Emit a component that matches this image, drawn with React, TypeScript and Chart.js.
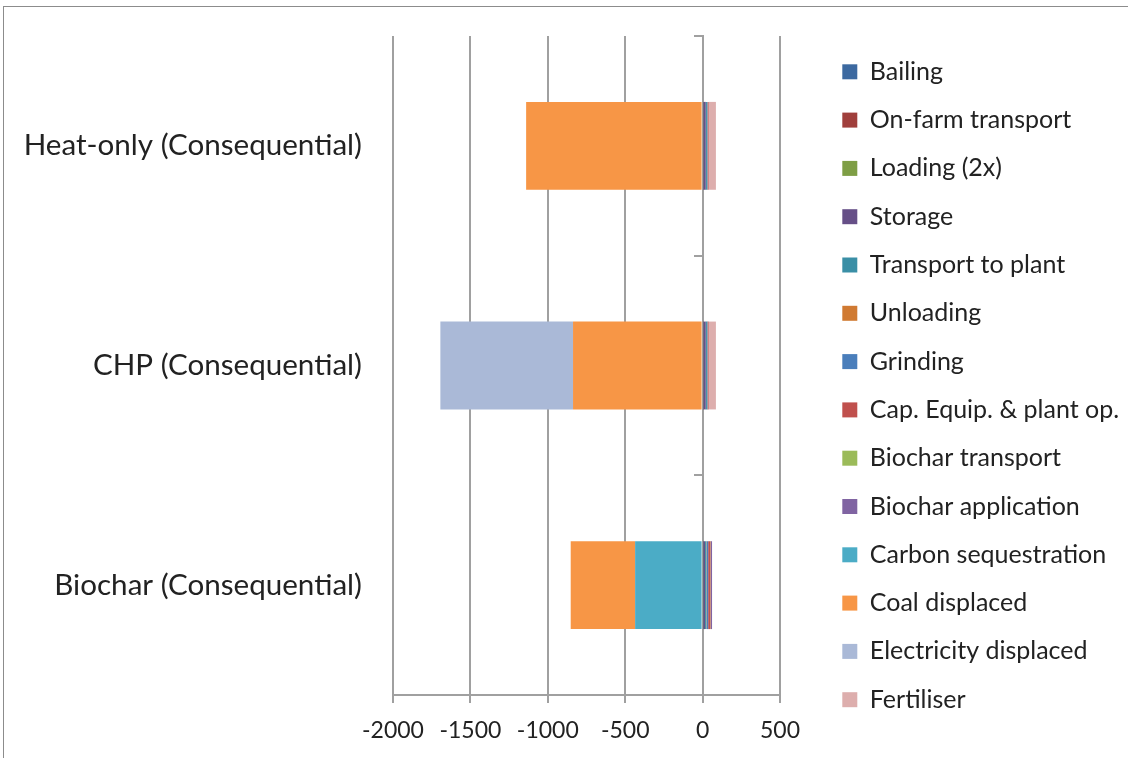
import React, { useEffect, useRef } from "react";
import { Chart, registerables } from "chart.js";

Chart.register(...registerables);

const categories = ["Heat-only (Consequential)", "CHP (Consequential)", "Biochar (Consequential)"];

const seriesNames = [
  "Bailing",
  "On-farm transport",
  "Loading (2x)",
  "Storage",
  "Transport to plant",
  "Unloading",
  "Grinding",
  "Cap. Equip. & plant op.",
  "Biochar transport",
  "Biochar application",
  "Carbon sequestration",
  "Coal displaced",
  "Electricity displaced",
  "Fertiliser",
];

const bailing = [4, 4, 3];
const onFarmTransport = [3, 3, 3];
const loading = [1, 1, 1];
const storage = [12, 12, 9];
const transportToPlant = [8, 8, 8];
const unloading = [2, 2, 2];
const grinding = [4, 4, 10];
const capEquip = [5, 5, 15];
const biocharTransport = [0, 0, 2];
const biocharApplication = [0, 0, 8];
const carbonSequestration = [0, 0, -436];
const coalDisplaced = [-1140, -837, -416];
const electricityDisplaced = [0, -857, 0];
const fertiliser = [47, 47, 0];

const xTicks = [-2000, -1500, -1000, -500, 0, 500];

const colors = [
  "#3C69A0",
  "#A03F3C",
  "#7E9E45",
  "#664F87",
  "#3A8FA6",
  "#D07A32",
  "#4A7EBB",
  "#C0504D",
  "#9BBB59",
  "#8064A2",
  "#4BACC6",
  "#F79646",
  "#AAB9D7",
  "#DDAEAD",
];

const seriesValues = [
  bailing,
  onFarmTransport,
  loading,
  storage,
  transportToPlant,
  unloading,
  grinding,
  capEquip,
  biocharTransport,
  biocharApplication,
  carbonSequestration,
  coalDisplaced,
  electricityDisplaced,
  fertiliser,
];

export default function App() {
  const canvasRef = useRef<HTMLCanvasElement | null>(null);

  useEffect(() => {
    if (!canvasRef.current) return;
    const font = "Lato";
    const chart = new Chart(canvasRef.current, {
      type: "bar",
      data: {
        labels: categories,
        datasets: seriesNames.map((name, i) => ({
          label: name,
          data: seriesValues[i],
          backgroundColor: colors[i],
          borderWidth: 0,
          barPercentage: 0.4,
          categoryPercentage: 1,
          stack: "s",
        })),
      },
      options: {
        indexAxis: "y",
        animation: false,
        responsive: true,
        maintainAspectRatio: false,
        layout: { padding: { top: 36, right: 0, bottom: 0, left: 0 } },
        plugins: {
          tooltip: { enabled: false },
          legend: {
            position: "right",
            align: "start",
            maxWidth: 309,
            labels: {
              boxWidth: 15,
              boxHeight: 15,
              padding: 23.3,
              color: "#222",
              font: { family: font, size: 25 },
            },
          },
        },
        scales: {
          x: {
            type: "linear",
            min: xTicks[0],
            max: xTicks[xTicks.length - 1],
            stacked: true,
            afterBuildTicks: (s: any) => {
              s.ticks = xTicks.map((v) => ({ value: v }));
            },
            afterFit: (s: any) => {
              s.height = 63;
            },
            grid: { color: "#A0A0A0", lineWidth: 2, tickLength: 8, drawTicks: true },
            border: { display: true, color: "#A0A0A0", width: 2 },
            ticks: {
              color: "#222",
              font: { family: font, size: 23 },
              padding: 14,
              callback: (v: any) => String(v),
            },
          },
          y: {
            type: "category",
            stacked: true,
            position: "left",
            afterFit: (s: any) => {
              s.width = 393;
              s.paddingTop = 0;
              s.paddingBottom = 0;
            },
            grid: { display: false, drawTicks: false },
            border: { display: false },
            ticks: { color: "#222", font: { family: font, size: 29.6 }, padding: 31 },
          },
          y2: {
            type: "category",
            labels: categories,
            position: { x: 0 },
            offset: true,
            grid: { offset: true, drawOnChartArea: false, drawTicks: true, tickLength: 8, color: "#A0A0A0", lineWidth: 2 },
            border: { display: true, color: "#A0A0A0", width: 2 },
            ticks: { display: false },
          },
          gap: {
            type: "linear",
            position: "right",
            display: true,
            afterFit: (s: any) => {
              s.width = 39;
              s.paddingTop = 0;
              s.paddingBottom = 0;
            },
            grid: { display: false, drawTicks: false },
            border: { display: false },
            ticks: { display: false },
          },
        } as any,
      },
    });
    return () => chart.destroy();
  }, []);

  return (
    <div style={{ position: "fixed", left: 0, top: 0, width: 1128, height: 758, background: "#fff" }}>
      <div
        style={{
          position: "absolute",
          left: 3,
          top: 6,
          width: 1200,
          height: 800,
          border: "1px solid #8C8C8C",
          boxSizing: "border-box",
        }}
      />
      <div style={{ position: "absolute", left: 0, top: 0, width: 1128, height: 758 }}>
        <canvas ref={canvasRef} />
      </div>
    </div>
  );
}
